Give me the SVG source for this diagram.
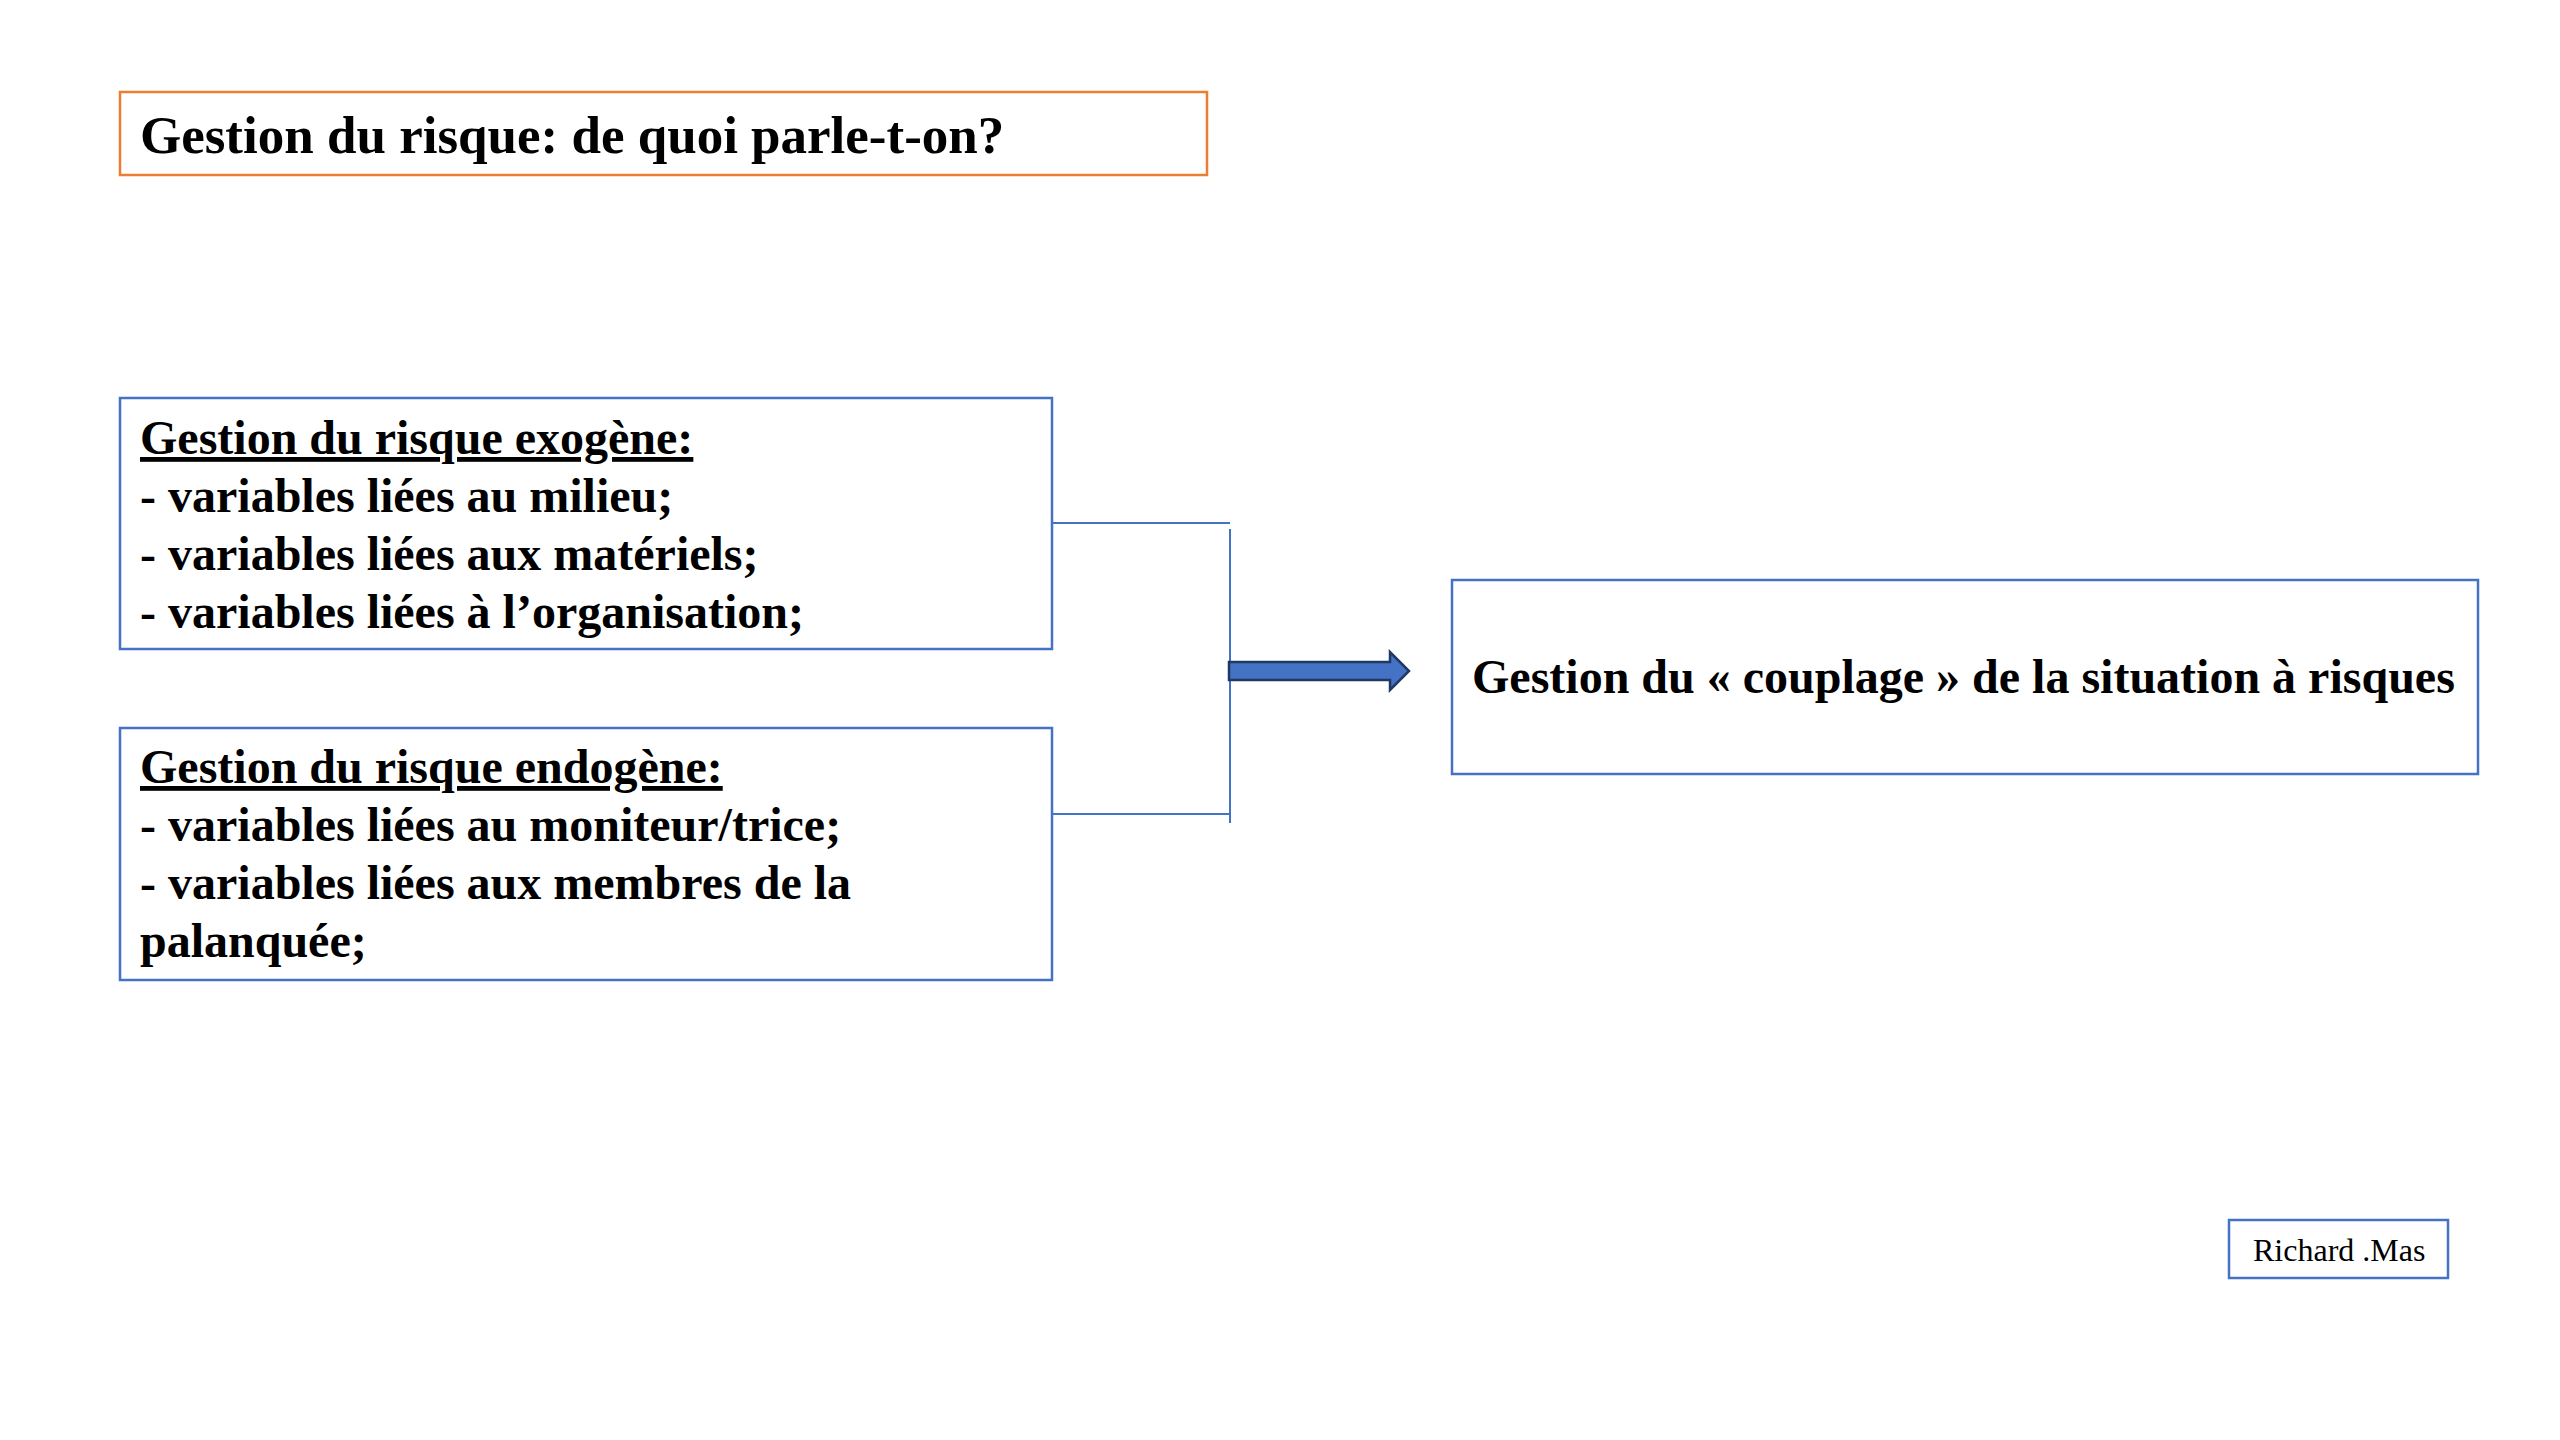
<svg xmlns="http://www.w3.org/2000/svg" width="2560" height="1440" viewBox="0 0 2560 1440">
<style>
.box{fill:#ffffff;stroke:#4472C4;stroke-width:2.5}
.title{fill:#ffffff;stroke:#ED7D31;stroke-width:2.5}
.t{font-family:"Liberation Serif","Times New Roman",serif;font-weight:bold;fill:#000}
.h{text-decoration:underline}
.conn{fill:none;stroke:#4472C4;stroke-width:2}
</style>
<rect width="2560" height="1440" fill="#ffffff"/>
<g id="title">
<rect class="title" x="120" y="92" width="1087" height="83"/>
<text class="t" x="140" y="153" font-size="53">Gestion du risque: de quoi parle-t-on?</text>
</g>
<g id="exogene">
<rect class="box" x="120" y="398" width="932" height="251"/>
<text class="t" font-size="48">
<tspan class="h" x="140" y="454">Gestion du risque exogène:</tspan>
<tspan x="140" y="512">- variables liées au milieu;</tspan>
<tspan x="140" y="570">- variables liées aux matériels;</tspan>
<tspan x="140" y="628">- variables liées à l’organisation;</tspan>
</text>
</g>
<g id="endogene">
<rect class="box" x="120" y="728" width="932" height="252"/>
<text class="t" font-size="48">
<tspan class="h" x="140" y="783">Gestion du risque endogène:</tspan>
<tspan x="140" y="841">- variables liées au moniteur/trice;</tspan>
<tspan x="140" y="899">- variables liées aux membres de la</tspan>
<tspan x="140" y="957">palanquée;</tspan>
</text>
</g>
<g id="couplage">
<rect class="box" x="1452" y="580" width="1026" height="194"/>
<text class="t" x="1472" y="693" font-size="48">Gestion du « couplage » de la situation à risques</text>
</g>
<g id="author">
<rect class="box" x="2229" y="1220" width="219" height="58"/>
<text x="2253" y="1261" font-size="32" font-family="'Liberation Serif','Times New Roman',serif" fill="#000">Richard .Mas</text>
</g>
<g id="connectors">
<path class="conn" d="M1052 523 H1230"/>
<path class="conn" d="M1230 529 V823"/>
<path class="conn" d="M1052 814 H1230"/>
<path d="M1229 662 H1390 V652 L1409 671 L1390 690 V680 H1229 Z" fill="#4472C4" stroke="#1F3864" stroke-width="2.5" stroke-linejoin="miter"/>
</g>
</svg>
